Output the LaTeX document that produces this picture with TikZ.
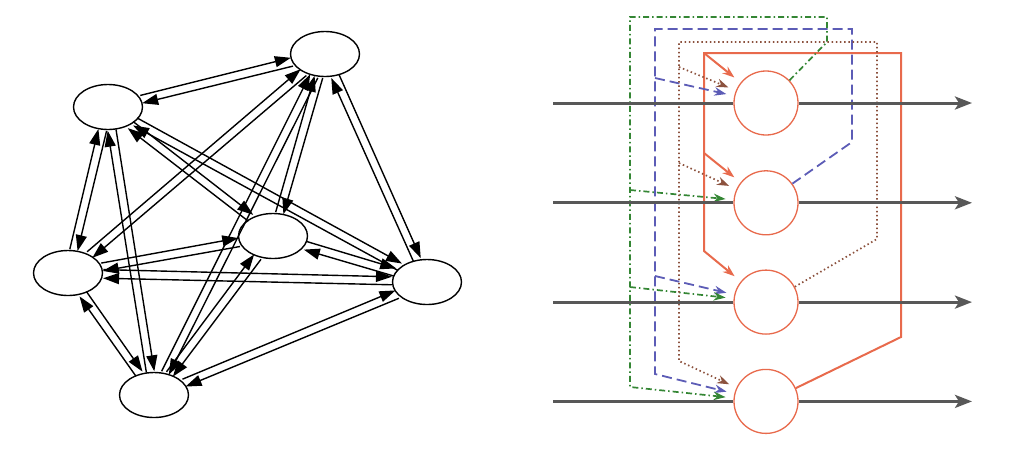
\documentclass[tikz,border=0pt]{standalone}
\usetikzlibrary{positioning,calc,arrows.meta,shapes.geometric}
\tikzset{>={Triangle[length=16pt,width=11pt]}}

\definecolor{fbred}{RGB}{232,106,76}
\definecolor{fbblue}{RGB}{92,92,182}
\definecolor{fbgreen}{RGB}{52,134,52}
\definecolor{fbbrown}{RGB}{140,82,62}
\definecolor{axisgray}{RGB}{88,88,88}

% one edge of a two-way pair, moved to its own side of the pair
\newcommand{\halfedge}[2]{%
  \draw[->] let \p1=($(#2)-(#1)$), \n1={atan2(\y1,\x1)}, \n2={\n1+180} in
    ([shift={(\n1+90:4pt)}]#1.\n1) -- ([shift={(\n1+90:4pt)}]#2.\n2);}

\begin{document}
\begin{tikzpicture}[
    x=1pt, y=-1pt,
    line width=1.4pt,
    vertex/.style={ellipse, draw, fill=white, minimum width=69pt, minimum height=45pt, inner sep=0pt},
    neuron/.style={circle, draw=fbred, fill=white, minimum size=64pt, inner sep=0pt, line width=1.3pt},
    axis/.style={draw=axisgray, line width=3pt},
    fb/.style={line width=1.8pt, shorten >=8pt, -{Stealth[length=12pt,width=8.5pt]}},
    redfb/.style={fb, draw=fbred, line width=2pt},
    bluefb/.style={fb, draw=fbblue, dash pattern=on 10pt off 5pt},
    greenfb/.style={fb, draw=fbgreen, line width=1.7pt, dash pattern=on 6pt off 3pt on 1.5pt off 3pt},
    brownfb/.style={fb, draw=fbbrown, line width=1.7pt, dash pattern=on 1.5pt off 2.7pt}
]
\useasboundingbox (0,0) rectangle (1014,459);

% left: fully connected graph
\node[vertex] (v1) at (108,107) {};
\node[vertex] (v2) at (325,54) {};
\node[vertex] (v3) at (273,236) {};
\node[vertex] (v4) at (68,273) {};
\node[vertex] (v5) at (427,282) {};
\node[vertex] (v6) at (154,395) {};

\foreach \va/\vb in {v1/v2,v1/v3,v1/v4,v1/v5,v1/v6,v2/v3,v2/v4,v2/v5,v2/v6,
                     v3/v4,v3/v5,v3/v6,v4/v5,v4/v6,v5/v6}{
  \halfedge{\va}{\vb}
  \halfedge{\vb}{\va}
}

% right: four units with feedback
\node[neuron] (n1) at (766,103) {};
\node[neuron, below=34.5pt of n1] (n2) {};
\node[neuron, below=34pt of n2] (n3) {};
\node[neuron, below=34pt of n3] (n4) {};

\coordinate (r1) at (901,337);
\coordinate (r2) at (901,53);
\coordinate (r3) at (704,53);
\coordinate (r4) at (704,251);
\coordinate (r5) at (704,153);
\draw[redfb] (n4.24) -- (r1) -- (r2) -- (r3) -- (r4) -- (n3);
\draw[redfb] (r3) -- (n1);
\draw[redfb] (r5) -- (n2);

\coordinate (b1) at (852,142);
\coordinate (b2) at (852,29);
\coordinate (b3) at (655,29);
\coordinate (b4) at (655,374);
\coordinate (b5) at (655,78);
\coordinate (b6) at (655,276);
\draw[bluefb] (n2.36) -- (b1) -- (b2) -- (b3) -- (b4) -- (n4);
\draw[bluefb] (b5) -- (n1);
\draw[bluefb] (b6) -- (n3);

\coordinate (g1) at (827,42);
\coordinate (g2) at (827,17);
\coordinate (g3) at (630,17);
\coordinate (g4) at (630,387);
\coordinate (g5) at (630,190);
\coordinate (g6) at (630,287);
\draw[greenfb] (n1.44) -- (g1) -- (g2) -- (g3) -- (g4) -- (n4);
\draw[greenfb] (g5) -- (n2);
\draw[greenfb] (g6) -- (n3);

\coordinate (d1) at (877,239);
\coordinate (d2) at (877,42);
\coordinate (d3) at (679,42);
\coordinate (d4) at (679,361);
\coordinate (d5) at (679,67);
\coordinate (d6) at (679,163);
\draw[brownfb] (n3.28) -- (d1) -- (d2) -- (d3) -- (d4) -- (n4);
\draw[brownfb] (d5) -- (n1);
\draw[brownfb] (d6) -- (n2);

\foreach \i in {1,...,4}{
  \coordinate (in\i) at (553,0 |- n\i);
  \coordinate (out\i) at (972,0 |- n\i);
  \draw[axis] (in\i) -- (n\i);
  \draw[axis, -{Stealth[length=17pt,width=13pt,inset=4pt]}] (n\i) -- (out\i);
}
\end{tikzpicture}
\end{document}
